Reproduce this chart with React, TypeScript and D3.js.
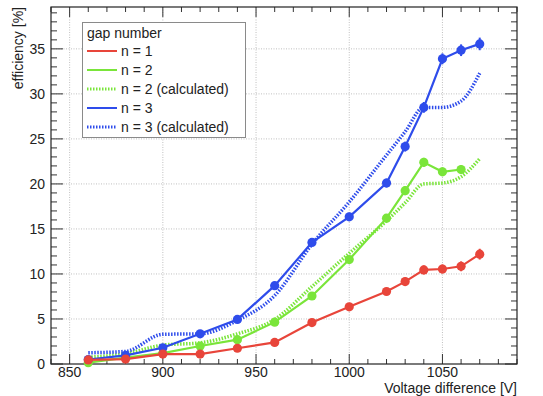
import React, { useRef, useEffect } from 'react';
import * as d3 from 'd3';

// voltage points [V]
const voltages = [860, 880, 900, 920, 940, 960, 980, 1000, 1020, 1030, 1040, 1050, 1060, 1070];
const voltagesN2 = voltages.slice(0, 13);

// efficiency [%]
const effN1 = [0.45, 0.55, 1.1, 1.1, 1.75, 2.4, 4.6, 6.35, 8.05, 9.15, 10.45, 10.55, 10.85, 12.2];
const errN1 = [0.1, 0.1, 0.15, 0.15, 0.2, 0.25, 0.3, 0.35, 0.4, 0.45, 0.5, 0.5, 0.55, 0.6];
const effN2 = [0.15, 0.7, 1.2, 2.0, 2.7, 4.65, 7.55, 11.6, 16.2, 19.25, 22.4, 21.35, 21.6];
const errN2 = [0.1, 0.1, 0.15, 0.2, 0.2, 0.3, 0.35, 0.4, 0.45, 0.5, 0.5, 0.5, 0.5];
const effN2calc = [0.75, 1.15, 2.1, 2.35, 3.35, 4.95, 8.6, 12.3, 15.9, 17.9, 20.0, 20.1, 20.8, 22.8];
const effN3 = [0.5, 0.95, 1.8, 3.35, 4.95, 8.7, 13.5, 16.35, 20.1, 24.15, 28.5, 33.9, 34.85, 35.55];
const errN3 = [0.1, 0.15, 0.2, 0.25, 0.3, 0.35, 0.4, 0.45, 0.5, 0.55, 0.6, 0.6, 0.65, 0.7];
const effN3calc = [1.25, 1.4, 3.3, 3.35, 4.85, 7.6, 13.3, 18.0, 23.2, 25.8, 28.5, 28.5, 29.2, 32.3];

const legendLabels = ['n = 1', 'n = 2', 'n = 2 (calculated)', 'n = 3', 'n = 3 (calculated)'];
const xMajorTicks = [850, 900, 950, 1000, 1050];
const yMajorTicks = [0, 5, 10, 15, 20, 25, 30, 35];

const RED = '#e8453a';
const GREEN = '#7ae53a';
const BLUE = '#2e4ceb';
const FONT = "'Liberation Sans', Arial, Helvetica, sans-serif";

export default function App() {
  const svgRef = useRef<SVGSVGElement>(null);
  const width = 543;
  const height = 396;

  useEffect(() => {
    const svg = d3.select(svgRef.current);
    svg.selectAll('*').remove();

    const left = 51, right = 517, top = 7, bottom = 364;
    const x = d3.scaleLinear().domain([840, 1090]).range([left, right]);
    const y = d3.scaleLinear().domain([0, 39.65]).range([bottom, top]);

    svg.append('rect').attr('width', width).attr('height', height).attr('fill', '#fff');

    // grid
    const grid = svg.append('g').attr('stroke', '#b0b0b0').attr('stroke-width', 0.8).attr('stroke-dasharray', '1,1.5');
    xMajorTicks.forEach(v => {
      grid.append('line').attr('x1', x(v)).attr('x2', x(v)).attr('y1', top).attr('y2', bottom);
    });
    yMajorTicks.filter(v => v > 0).forEach(v => {
      grid.append('line').attr('x1', left).attr('x2', right).attr('y1', y(v)).attr('y2', y(v));
    });

    // ticks (ROOT style, inside, on all sides)
    const ticks = svg.append('g').attr('stroke', '#333').attr('stroke-width', 1);
    d3.range(840, 1091, 10).forEach(v => {
      const len = v % 50 === 0 ? 10 : 5;
      ticks.append('line').attr('x1', x(v)).attr('x2', x(v)).attr('y1', bottom).attr('y2', bottom - len);
      ticks.append('line').attr('x1', x(v)).attr('x2', x(v)).attr('y1', top).attr('y2', top + len);
    });
    d3.range(0, 40, 1).forEach(v => {
      const len = v % 5 === 0 ? 12 : 6;
      ticks.append('line').attr('x1', left).attr('x2', left + len).attr('y1', y(v)).attr('y2', y(v));
      ticks.append('line').attr('x1', right).attr('x2', right - len).attr('y1', y(v)).attr('y2', y(v));
    });

    // frame
    svg.append('rect')
      .attr('x', left).attr('y', top)
      .attr('width', right - left).attr('height', bottom - top)
      .attr('fill', 'none').attr('stroke', '#222').attr('stroke-width', 1.2);

    // tick labels
    svg.append('g').selectAll('text').data(xMajorTicks).enter().append('text')
      .attr('x', d => x(d)).attr('y', 377)
      .attr('text-anchor', 'middle').attr('font-family', FONT).attr('font-size', 14).attr('fill', '#222')
      .text(d => d);
    svg.append('g').selectAll('text').data(yMajorTicks).enter().append('text')
      .attr('x', 45).attr('y', d => y(d)).attr('dy', '0.36em')
      .attr('text-anchor', 'end').attr('font-family', FONT).attr('font-size', 14).attr('fill', '#222')
      .text(d => d);

    // axis titles
    svg.append('text')
      .attr('x', right).attr('y', 393)
      .attr('text-anchor', 'end').attr('font-family', FONT).attr('font-size', 14).attr('fill', '#222')
      .text('Voltage difference [V]');
    svg.append('text')
      .attr('transform', `translate(23,${top}) rotate(-90)`)
      .attr('text-anchor', 'end').attr('font-family', FONT).attr('font-size', 14).attr('fill', '#222')
      .text('efficiency [%]');

    const plot = svg.append('g');
    const straight = d3.line<[number, number]>().x(d => x(d[0])).y(d => y(d[1]));
    const smooth = d3.line<[number, number]>().x(d => x(d[0])).y(d => y(d[1])).curve(d3.curveMonotoneX);

    const zip = (xs: number[], ys: number[]) => xs.map((v, i) => [v, ys[i]] as [number, number]);

    // calculated curves (dotted)
    const dotted = (vals: number[], color: string) => {
      plot.append('path')
        .datum(zip(voltages, vals))
        .attr('d', smooth)
        .attr('fill', 'none')
        .attr('stroke', color)
        .attr('stroke-width', 3.5)
        .attr('stroke-dasharray', '1.5,1.5');
    };

    // measured curves with markers and error bars
    const measured = (xs: number[], vals: number[], errs: number[], color: string) => {
      const pts = zip(xs, vals);
      plot.append('path')
        .datum(pts)
        .attr('d', straight)
        .attr('fill', 'none')
        .attr('stroke', color)
        .attr('stroke-width', 2.2);
      plot.append('g').selectAll('line').data(pts).enter().append('line')
        .attr('x1', d => x(d[0])).attr('x2', d => x(d[0]))
        .attr('y1', (d, i) => y(d[1] - errs[i])).attr('y2', (d, i) => y(d[1] + errs[i]))
        .attr('stroke', color).attr('stroke-width', 2);
      plot.append('g').selectAll('circle').data(pts).enter().append('circle')
        .attr('cx', d => x(d[0])).attr('cy', d => y(d[1]))
        .attr('r', 4.6)
        .attr('fill', color);
    };

    dotted(effN2calc, GREEN);
    dotted(effN3calc, BLUE);
    measured(voltagesN2, effN2, errN2, GREEN);
    measured(voltages, effN3, errN3, BLUE);
    measured(voltages, effN1, errN1, RED);

    // legend
    const lg = svg.append('g');
    lg.append('rect')
      .attr('x', 82.5).attr('y', 22.5).attr('width', 163).attr('height', 115)
      .attr('fill', '#fff').attr('stroke', '#8a8a8a').attr('stroke-width', 1);
    lg.append('text')
      .attr('x', 87).attr('y', 38)
      .attr('font-family', FONT).attr('font-size', 14).attr('fill', '#222')
      .text('gap number');
    const legendColors = [RED, GREEN, GREEN, BLUE, BLUE];
    const legendDotted = [false, false, true, false, true];
    legendLabels.forEach((label, i) => {
      const cy = 51 + i * 19;
      lg.append('line')
        .attr('x1', 87).attr('x2', 117).attr('y1', cy).attr('y2', cy)
        .attr('stroke', legendColors[i])
        .attr('stroke-width', legendDotted[i] ? 3 : 2)
        .attr('stroke-dasharray', legendDotted[i] ? '1.5,1.5' : null);
      lg.append('text')
        .attr('x', 121).attr('y', cy + 5)
        .attr('font-family', FONT).attr('font-size', 14).attr('fill', '#222')
        .text(label);
    });
  }, []);

  return (
    <svg
      ref={svgRef}
      width={width}
      height={height}
      style={{ position: 'absolute', left: 0, top: 0, display: 'block' }}
    />
  );
}
